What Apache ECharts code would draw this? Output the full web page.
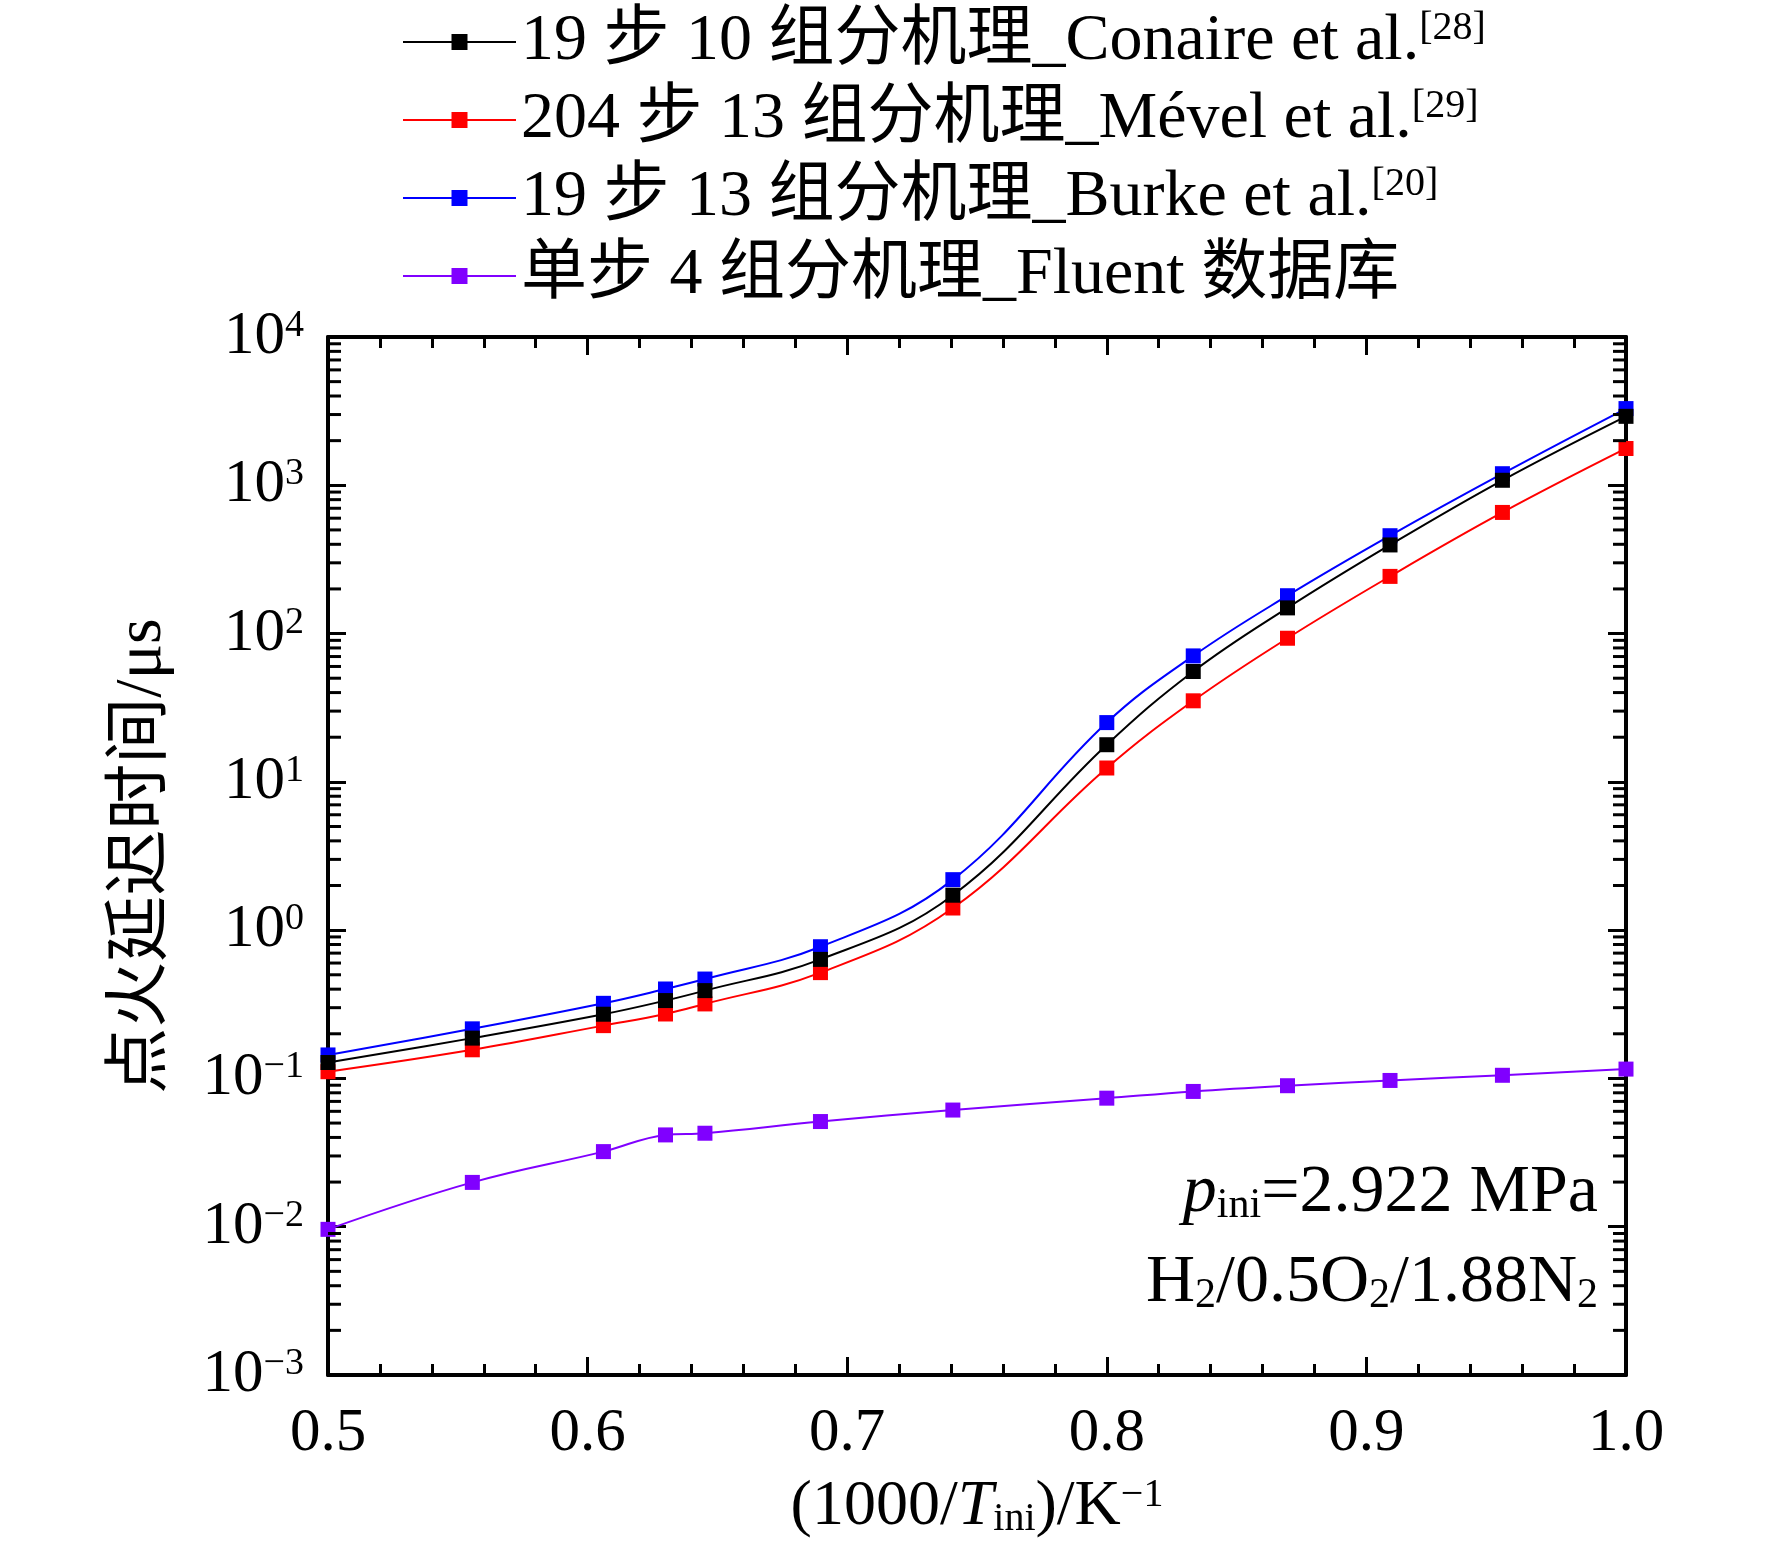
<!DOCTYPE html>
<html>
<head>
<meta charset="utf-8">
<script src="https://cdn.jsdelivr.net/npm/echarts@6/dist/echarts.min.js"></script>
<style>
  html, body { margin: 0; padding: 0; background: #fff; }
  #chart { width: 1772px; height: 1566px; }
</style>
</head>
<body>
<div id="chart"></div>
<script>
// 1000/T 横坐标
var xVals = [0.5, 0.5556, 0.6061, 0.63, 0.6452, 0.6897, 0.7407, 0.8, 0.8333, 0.8696, 0.9091, 0.9524, 1.0];

// 点火延迟时间 / μs
var conaire = [0.128, 0.187, 0.271, 0.335, 0.391, 0.635, 1.72, 17.8, 55.5, 149, 396, 1081, 2917];
var mevel   = [0.111, 0.156, 0.227, 0.272, 0.318, 0.517, 1.41, 12.4, 35.2, 93, 243, 656, 1771];
var burke   = [0.144, 0.216, 0.321, 0.401, 0.468, 0.773, 2.19, 25.1, 70.7, 180, 457, 1197, 3290];
var fluent  = [0.0096, 0.0199, 0.0321, 0.0416, 0.0427, 0.0512, 0.0612, 0.0736, 0.0817, 0.0893, 0.0969, 0.105, 0.1156];

var seriesNames = ['19 步 10 组分机理_Conaire et al.', '204 步 13 组分机理_Mével et al.', '19 步 13 组分机理_Burke et al.', '单步 4 组分机理_Fluent 数据库'];
var seriesRefs = ['[28]', '[29]', '[20]', ''];
var seriesColors = ['#000000', '#ff0000', '#0000ff', '#8000ff'];

var yMantissa = [2, 3, 4, 5, 6, 7, 8, 9];   // 对数轴次刻度
var yDecades = [-3, -2, -1, 0, 1, 2, 3];

var FONT = "'Liberation Serif', 'Times New Roman', 'Noto Sans CJK SC', serif";

function zip(xs, ys) {
  return xs.map(function (x, i) { return [x, ys[i]]; });
}

var minorPos = [];
yDecades.forEach(function (e) {
  yMantissa.forEach(function (m) { minorPos.push([0.5, m * Math.pow(10, e)]); });
});

var chart = echarts.init(document.getElementById('chart'));

var lineSeries = [conaire, mevel, burke, fluent].map(function (d, i) {
  return {
    name: seriesNames[i],
    type: 'line',
    data: zip(xVals, d),
    smooth: 0.4,
    symbol: 'rect',
    symbolSize: 15,
    itemStyle: { color: seriesColors[i] },
    lineStyle: { color: seriesColors[i], width: 2 },
    z: 5 - i
  };
});

lineSeries.push({
  name: 'minor',
  type: 'custom',
  silent: true,
  data: minorPos,
  encode: { x: 0, y: 1 },
  renderItem: function (params, api) {
    var v = api.value(1);
    var pl = api.coord([0.5, v]);
    var pr = api.coord([1.0, v]);
    var st = { stroke: '#000', lineWidth: 3 };
    return {
      type: 'group',
      children: [
        { type: 'line', shape: { x1: pl[0], y1: pl[1], x2: pl[0] + 13, y2: pl[1] }, style: st },
        { type: 'line', shape: { x1: pr[0] - 13, y1: pr[1], x2: pr[0], y2: pr[1] }, style: st }
      ]
    };
  },
  z: 10
});

function axisX(pos, labels) {
  return {
    type: 'value',
    position: pos,
    min: 0.5,
    max: 1.0,
    interval: 0.1,
    axisLine: { show: true, onZero: false, lineStyle: { color: '#000', width: 4 } },
    axisTick: { show: true, inside: true, length: 18, lineStyle: { color: '#000', width: 3 } },
    minorTick: { show: true, splitNumber: 5, length: 11, lineStyle: { color: '#000', width: 3 } },
    splitLine: { show: false },
    axisLabel: {
      show: labels,
      margin: 28,
      fontSize: 61,
      fontFamily: FONT,
      color: '#000',
      formatter: function (v) { return v.toFixed(1); }
    }
  };
}

function axisY(pos, labels) {
  return {
    type: 'log',
    logBase: 10,
    position: pos,
    min: 0.001,
    max: 10000,
    splitNumber: 7,
    axisLine: { show: true, onZero: false, lineStyle: { color: '#000', width: 4 } },
    axisTick: { show: true, inside: true, length: 18, lineStyle: { color: '#000', width: 3 } },
    splitLine: { show: false },
    axisLabel: {
      show: labels,
      margin: 24,
      color: '#000',
      formatter: function (v) {
        var e = Math.round(Math.log10(v));
        return '{b|10}{s|' + (e < 0 ? '\u2212' + (-e) : e) + '}';
      },
      rich: {
        b: { fontSize: 61, fontFamily: FONT, color: '#000', lineHeight: 60 },
        s: { fontSize: 38, fontFamily: FONT, color: '#000', lineHeight: 30, verticalAlign: 'top' }
      }
    }
  };
}

var xMain = axisX('bottom', true);
xMain.name = '{n|(1000/}{i|T}{sub|ini}{n|)/K}{sup|\u22121}';
xMain.nameLocation = 'middle';
xMain.nameGap = 100;
xMain.nameTextStyle = {
  rich: {
    n: { fontSize: 64, fontFamily: FONT, color: '#000', lineHeight: 64 },
    i: { fontSize: 64, fontFamily: FONT, fontStyle: 'italic', color: '#000', lineHeight: 64 },
    sub: { fontSize: 40, fontFamily: FONT, color: '#000', lineHeight: 26, verticalAlign: 'bottom' },
    sup: { fontSize: 40, fontFamily: FONT, color: '#000', lineHeight: 30, verticalAlign: 'top' }
  }
};

var yMain = axisY('left', true);
yMain.name = '点火延迟时间/μs';
yMain.nameLocation = 'middle';
yMain.nameRotate = 90;
yMain.nameGap = 152;
yMain.nameTextStyle = { fontSize: 66, fontFamily: FONT, color: '#000' };

var option = {
  backgroundColor: '#fff',
  animation: false,
  grid: { left: 328, right: 146, top: 337, bottom: 191, containLabel: false },
  legend: {
    orient: 'vertical',
    left: 397,
    top: 4,
    itemWidth: 113,
    itemHeight: 20,
    itemGap: 12,
    data: seriesNames,
    formatter: function (name) {
      var i = seriesNames.indexOf(name);
      return '{a|' + name + '}' + (seriesRefs[i] ? '{sup|' + seriesRefs[i] + '}' : '');
    },
    textStyle: {
      color: '#000',
      fontFamily: FONT,
      fontSize: 66,
      rich: {
        a: { fontSize: 66, fontFamily: FONT, color: '#000', lineHeight: 66 },
        sup: { fontSize: 40, fontFamily: FONT, color: '#000', lineHeight: 28, verticalAlign: 'top' }
      }
    }
  },
  xAxis: [xMain, axisX('top', false)],
  yAxis: [yMain, axisY('right', false)],
  graphic: [
    {
      type: 'text',
      x: 1598,
      y: 1193,
      style: {
        text: '{i|p}{sub|ini}{n|=2.922 MPa}',
        align: 'right',
        verticalAlign: 'middle',
        rich: {
          i: { fontSize: 68, fontFamily: FONT, fontStyle: 'italic', fill: '#000', lineHeight: 68 },
          n: { fontSize: 68, fontFamily: FONT, fill: '#000', lineHeight: 68 },
          sub: { fontSize: 42, fontFamily: FONT, fill: '#000', lineHeight: 24, verticalAlign: 'bottom' }
        }
      }
    },
    {
      type: 'text',
      x: 1598,
      y: 1283,
      style: {
        text: '{n|H}{sub|2}{n|/0.5O}{sub|2}{n|/1.88N}{sub|2}',
        align: 'right',
        verticalAlign: 'middle',
        rich: {
          n: { fontSize: 68, fontFamily: FONT, fill: '#000', lineHeight: 68 },
          sub: { fontSize: 42, fontFamily: FONT, fill: '#000', lineHeight: 24, verticalAlign: 'bottom' }
        }
      }
    }
  ],
  series: lineSeries
};

chart.setOption(option);
</script>
</body>
</html>
